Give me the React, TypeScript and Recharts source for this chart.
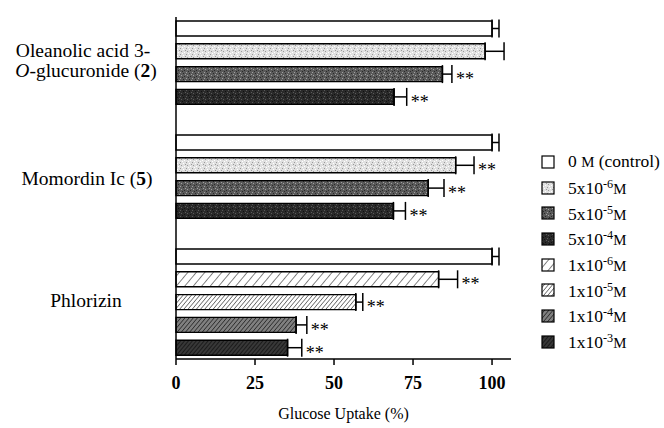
import React from 'react';
import { BarChart, Bar, XAxis, YAxis, ErrorBar, Cell, LabelList, Legend } from 'recharts';

// ---- data ----
const compounds = ['Oleanolic acid 3-O-glucuronide (2)', 'Momordin Ic (5)', 'Phlorizin'];

// concentration legend entries (index used below)
const concMantissa = ['0', '5x10', '5x10', '5x10', '1x10', '1x10', '1x10', '1x10'];
const concExponent = ['', '-6', '-5', '-4', '-6', '-5', '-4', '-3'];
const concTail = [' (control)', '', '', '', '', '', '', ''];

// group 1: Oleanolic acid 3-O-glucuronide (2)
const oleanolicConc = [0, 1, 2, 3];
const oleanolicValues = [100, 97.8, 84.3, 69.0];
const oleanolicErrors = [2.2, 6.0, 3.0, 4.0];
const oleanolicSig = [false, false, true, true];

// group 2: Momordin Ic (5)
const momordinConc = [0, 1, 2, 3];
const momordinValues = [100, 88.5, 79.8, 68.8];
const momordinErrors = [2.2, 5.8, 5.0, 3.8];
const momordinSig = [false, true, true, true];

// group 3: Phlorizin
const phlorizinConc = [0, 4, 5, 6, 7];
const phlorizinValues = [100, 83.1, 56.9, 38.0, 35.3];
const phlorizinErrors = [2.2, 6.0, 2.2, 3.4, 4.5];
const phlorizinSig = [false, true, true, true, true];

const xTicks = [0, 25, 50, 75, 100];

// ---- build rows (one row per bar, one empty row between groups) ----
const groups = [
  { name: compounds[0], conc: oleanolicConc, values: oleanolicValues, errors: oleanolicErrors, sig: oleanolicSig },
  { name: compounds[1], conc: momordinConc, values: momordinValues, errors: momordinErrors, sig: momordinSig },
  { name: compounds[2], conc: phlorizinConc, values: phlorizinValues, errors: phlorizinErrors, sig: phlorizinSig },
];

const rows: any[] = [];
const groupCenters: { pos: number; name: string }[] = [];
let cursor = 0;
groups.forEach((g) => {
  const start = cursor;
  g.values.forEach((v, i) => {
    rows.push({ pos: cursor, value: v, err: [0, g.errors[i]], e: g.errors[i], sig: g.sig[i], conc: g.conc[i] });
    cursor += 1;
  });
  groupCenters.push({ pos: (start + cursor - 1) / 2, name: g.name });
  cursor += 1; // spacer row
});
const lastPos = cursor - 2;

const patternIds = ['p-white', 'p-stip1', 'p-stip2', 'p-stip3', 'p-hatch1', 'p-hatch2', 'p-hatch3', 'p-hatch4'];
const FONT = 'Liberation Serif, Times New Roman, serif';
const LABEL_SIZE = 19.5;

function Patterns({ prefix }: { prefix: string }) {
  const dots = (bg: string, dot: string, dot2: string) => (
    <>
      <rect width="6" height="6" fill={bg} />
      <rect x="0" y="0" width="1" height="1" fill={dot} />
      <rect x="3" y="1" width="1" height="1" fill={dot2} />
      <rect x="1" y="3" width="1" height="1" fill={dot} />
      <rect x="4" y="4" width="1" height="1" fill={dot2} />
      <rect x="5" y="2" width="1" height="1" fill={dot} />
      <rect x="2" y="5" width="1" height="1" fill={dot2} />
    </>
  );
  const hatch = (id: string, size: number, bg: string, line: string, w: number) => (
    <pattern id={prefix + id} width={size} height={size} patternUnits="userSpaceOnUse" patternTransform="rotate(40)">
      <rect width={size} height={size} fill={bg} />
      <line x1="0" y1="0" x2="0" y2={size} stroke={line} strokeWidth={w} />
    </pattern>
  );
  return (
    <defs>
      <pattern id={prefix + 'p-white'} width="4" height="4" patternUnits="userSpaceOnUse">
        <rect width="4" height="4" fill="#ffffff" />
      </pattern>
      <pattern id={prefix + 'p-stip1'} width="6" height="6" patternUnits="userSpaceOnUse">
        {dots('#e0e0e0', '#9a9a9a', '#ffffff')}
      </pattern>
      <pattern id={prefix + 'p-stip2'} width="6" height="6" patternUnits="userSpaceOnUse">
        {dots('#5a5a5a', '#a0a0a0', '#2a2a2a')}
      </pattern>
      <pattern id={prefix + 'p-stip3'} width="6" height="6" patternUnits="userSpaceOnUse">
        {dots('#2a2a2a', '#5a5a5a', '#111111')}
      </pattern>
      {hatch('p-hatch1', 6.5, '#ffffff', '#222', 1.1)}
      {hatch('p-hatch2', 3.2, '#ffffff', '#222', 1.1)}
      {hatch('p-hatch3', 3.2, '#808080', '#1a1a1a', 1.3)}
      {hatch('p-hatch4', 3.0, '#383838', '#0a0a0a', 1.3)}
    </defs>
  );
}

const YTick = (props: any) => {
  const { y, payload } = props;
  const g = groupCenters.find((c) => Math.abs(c.pos - payload.value) < 1e-6);
  if (!g) return null;
  const cx = 86;
  if (g.name.startsWith('Oleanolic')) {
    return (
      <text x={cx} y={y} textAnchor="middle" style={{ fontFamily: FONT }} fontSize={LABEL_SIZE} fill="#000">
        <tspan x={cx - 3} dy="-0.27em">Oleanolic acid 3-</tspan>
        <tspan x={cx} dy="1.0em">
          <tspan fontStyle="italic">O</tspan>-glucuronide (<tspan fontWeight="bold">2</tspan>)
        </tspan>
      </text>
    );
  }
  if (g.name.startsWith('Momordin')) {
    return (
      <text x={cx + 1} y={y} dy="0.45em" textAnchor="middle" style={{ fontFamily: FONT }} fontSize={LABEL_SIZE} fill="#000">
        Momordin Ic (<tspan fontWeight="bold">5</tspan>)
      </text>
    );
  }
  return (
    <text x={cx} y={y} dy="0.25em" textAnchor="middle" style={{ fontFamily: FONT }} fontSize={LABEL_SIZE} fill="#000">
      {g.name}
    </text>
  );
};

const renderSig = (p: any) => {
  const row = rows[p.index];
  if (!row || !row.sig) return null;
  const pxPerUnit = p.width / p.value;
  const xEnd = p.x + p.width + row.e * pxPerUnit;
  return (
    <text x={xEnd + 4} y={p.y + p.height / 2} dy="0.62em" style={{ fontFamily: FONT }} fontSize={18} fill="#000">
      **
    </text>
  );
};

const LegendContent = () => (
  <div style={{ fontFamily: FONT, fontSize: 17.5, color: '#000', lineHeight: 1 }}>
    {concMantissa.map((m, i) => (
      <div key={i} style={{ height: 25.7, display: 'flex', alignItems: 'center', whiteSpace: 'nowrap' }}>
        <svg width="14" height="14" style={{ marginRight: 13, flex: 'none' }}>
          <Patterns prefix={'lg' + i} />
          <rect x="1" y="1" width="12" height="12" fill={`url(#lg${i}${patternIds[i]})`} stroke="#000" strokeWidth="1.2" />
        </svg>
        <span>
          {m}
          {concExponent[i] ? <sup style={{ fontSize: '0.7em', verticalAlign: '0.45em' }}>{concExponent[i]}</sup> : ' '}
          <span style={{ fontSize: '0.85em' }}>M</span>
          {concTail[i]}
        </span>
      </div>
    ))}
  </div>
);

export default function App() {
  return (
    <div style={{ position: 'absolute', left: 0, top: 0, background: '#fff', fontFamily: FONT }}>
      <BarChart
        width={664}
        height={428}
        data={rows}
        layout="vertical"
        margin={{ top: 17, right: 153, bottom: 0, left: 0 }}
        style={{ fontFamily: FONT }}
      >
        <Patterns prefix="" />
        <XAxis
          type="number"
          domain={[0, 106]}
          ticks={xTicks}
          height={69}
          tickSize={6}
          tickMargin={11}
          axisLine={{ stroke: '#000', strokeWidth: 1.5 }}
          tickLine={{ stroke: '#000', strokeWidth: 1.5 }}
          tick={{ fill: '#000', fontSize: 18, fontWeight: 'bold', style: { fontFamily: FONT } }}
          label={{ value: 'Glucose Uptake (%)', position: 'insideBottom', offset: 9, fill: '#000', fontSize: 16, style: { fontFamily: FONT } }}
        />
        <YAxis
          type="number"
          dataKey="pos"
          domain={[-0.5, lastPos + 0.5]}
          ticks={groupCenters.map((c) => c.pos)}
          width={176}
          tickLine={false}
          axisLine={{ stroke: '#000', strokeWidth: 1.5 }}
          tick={<YTick />}
          interval={0}
        />
        <Legend
          layout="horizontal"
          align="center"
          verticalAlign="middle"
          content={<LegendContent />}
          wrapperStyle={{ left: 541, top: 149, width: 123 }}
        />
        <Bar dataKey="value" barSize={15} stroke="#000" strokeWidth={1.4} isAnimationActive={false}>
          {rows.map((r, i) => (
            <Cell key={i} fill={`url(#${patternIds[r.conc]})`} />
          ))}
          <ErrorBar dataKey="err" direction="x" width={9} stroke="#000" strokeWidth={1.5} />
          <LabelList dataKey="value" content={renderSig} />
        </Bar>
      </BarChart>
    </div>
  );
}
